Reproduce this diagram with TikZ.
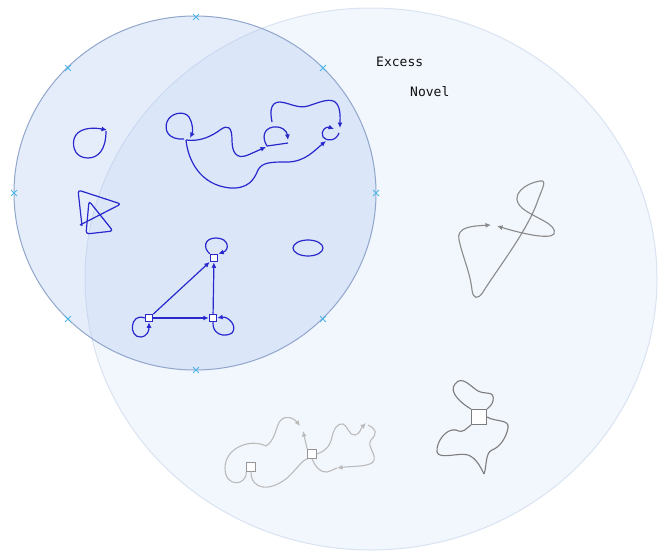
\documentclass[tikz,border=0pt]{standalone}
\usepackage{fontspec}
\setmonofont{DejaVu Sans Mono}
\usetikzlibrary{arrows.meta,shapes.misc}
\definecolor{bigfill}{HTML}{F2F6FD}
\definecolor{bigline}{HTML}{D9E3F1}
\definecolor{smallfill}{HTML}{A9C4F0}
\definecolor{smallline}{HTML}{90A6CA}
\definecolor{markc}{HTML}{4DB8E8}
\definecolor{edgeblue}{RGB}{40,40,205}
\definecolor{edgegray}{HTML}{8A8A8A}
\definecolor{edgedark}{HTML}{7C7C7C}
\definecolor{edgelight}{HTML}{BBBBBB}
\definecolor{txt}{HTML}{111111}
\tikzset{
  blueedge/.style={draw=edgeblue,line width=1.2pt,-{Latex[length=5.5pt,width=5pt]}},
  bluecurve/.style={draw=edgeblue,line width=1.2pt},
  grayedge/.style={draw=edgegray,line width=1.1pt},
  darkedge/.style={draw=edgedark,line width=1.1pt},
  lightedge/.style={draw=edgelight,line width=1.1pt},
  tipg/.style={-{Latex[length=5.5pt,width=5pt]}},
  bluesq/.style={rectangle,draw=edgeblue,fill=white,line width=1pt,minimum size=7.5pt,inner sep=0pt},
  lightsq/.style={rectangle,draw=edgelight!80!black,fill=white,line width=1pt,minimum size=8.5pt,inner sep=0pt},
  bigsq/.style={rectangle,draw=edgedark,fill=white,line width=1pt,minimum size=15pt,inner sep=0pt},
  marker/.style={cross out,draw=markc,line width=0.9pt,minimum size=5pt,inner sep=0pt},
  label/.style={font=\ttfamily\fontsize{13}{15}\selectfont,text=txt,inner sep=0pt,anchor=base west}
}
\begin{document}
\begin{tikzpicture}[x=1pt,y=-1pt]
\useasboundingbox (0,0) rectangle (658,552);
% big ellipse
\draw[fill=bigfill,draw=bigline,line width=1pt] (371,279) ellipse [x radius=286pt, y radius=271pt];
% small circle
\draw[fill=smallfill,fill opacity=0.3,draw=smallline,line width=1pt] (195,193) ellipse [x radius=181pt, y radius=177pt];
% markers
\node[marker] (m1) at (196,17) {};
\node[marker] (m2) at (68,68) {};
\node[marker] (m3) at (323,68) {};
\node[marker] (m4) at (14,193) {};
\node[marker] (m5) at (376,193) {};
\node[marker] (m6) at (68,319) {};
\node[marker] (m7) at (323,319) {};
\node[marker] (m8) at (196,370) {};
% labels
\node[label] (ex) at (376,66) {Excess};
\node[label] (nv) at (410,96) {Novel};

% ---- blue: teardrop loop
\coordinate (d1) at (106,131);
\draw[blueedge] (d1) .. controls (106,150) and (98,158) .. (88,158)
  .. controls (76,158) and (72,148) .. (74,139)
  .. controls (77,128) and (92,127) .. (107,130);
% ---- blue: triangle shape
\draw[bluecurve,rounded corners=3pt] (82,226) -- (78,190) -- (121,204) -- (80,225);
\draw[bluecurve,rounded corners=3pt] (89,201) -- (86,234) -- (113,231) -- cycle;
% ---- blue: oval
\draw[bluecurve] (308,248) ellipse [x radius=15pt, y radius=8pt];

% ---- blue: top group
\coordinate (n1) at (190,138);
\coordinate (n2) at (266,147);
\coordinate (n3) at (288,140);
\coordinate (n4) at (340,128);
\coordinate (n5) at (326,141);
\coordinate (n6) at (272,122);
\coordinate (n7) at (334,129);
% loop 1
\draw[blueedge] (184,139) .. controls (168,140) and (164,130) .. (167,122)
  .. controls (170,113) and (184,110) .. (189,117)
  .. controls (193,123) and (193,132) .. (n1);
% wiggle to n2
\draw[blueedge] (186,140) .. controls (200,142) and (212,136) .. (220,130)
  .. controls (228,124) and (232,127) .. (232,140)
  .. controls (232,152) and (236,160) .. (248,155) -- (n2);
% loop 2
\draw[blueedge] (267,146) .. controls (262,138) and (263,129) .. (273,127)
  .. controls (282,126) and (287,131) .. (n3);
\draw[bluecurve] (267,146) -- (288,143);
% path up
\draw[blueedge] (n6) .. controls (270,112) and (270,102) .. (280,102)
  .. controls (290,103) and (298,109) .. (308,106)
  .. controls (318,103) and (332,96) .. (337,104)
  .. controls (341,110) and (340,120) .. (n4);
% loop 3
\draw[blueedge] (339,133) .. controls (336,141) and (327,142) .. (323,137)
  .. controls (320,131) and (326,126) .. (n7);
% long bottom path
\draw[blueedge] (186,140) .. controls (188,160) and (200,185) .. (230,188)
  .. controls (248,189) and (254,180) .. (258,170)
  .. controls (262,162) and (272,162) .. (287,162)
  .. controls (305,162) and (315,150) .. (n5);

% ---- blue: triangle graph
\node[bluesq] (T) at (214,258) {};
\node[bluesq] (L) at (149,318) {};
\node[bluesq] (R) at (213,318) {};
\draw[blueedge] (L) -- (T);
\draw[blueedge] (L) -- (R);
\draw[blueedge] (R) -- (T);
\draw[blueedge] (T.north west) .. controls (203,248) and (204,238) .. (216,238)
  .. controls (229,238) and (230,250) .. (T.north east);
\draw[blueedge] (L.west) .. controls (130,312) and (128,338) .. (141,337)
  .. controls (148,336) and (149,330) .. (L.south);
\draw[blueedge] (R.south) .. controls (212,334) and (224,338) .. (232,333)
  .. controls (238,326) and (228,316) .. (R.east);

% ---- gray figure
\coordinate (g1) at (491,225);
\coordinate (g2) at (497,226);
\draw[grayedge,{Latex[length=5.5pt,width=5pt]}-{Latex[length=5.5pt,width=5pt]}] (g1)
  .. controls (472,226) and (456,227) .. (459,240)
  .. controls (463,258) and (470,272) .. (472,290)
  .. controls (473,299) and (478,300) .. (483,292)
  .. controls (498,268) and (528,230) .. (538,200)
  .. controls (543,187) and (547,180) .. (540,181)
  .. controls (526,183) and (508,195) .. (522,208)
  .. controls (534,218) and (558,224) .. (554,234)
  .. controls (549,240) and (520,233) .. (g2);

% ---- bowtie
\node[bigsq] (B) at (479,417) {};
\coordinate (bt) at (484,474);
\draw[darkedge] (B.north west) .. controls (462,404) and (448,392) .. (455,384)
  .. controls (462,375) and (470,386) .. (478,391)
  .. controls (486,395) and (495,390) .. (493,401)
  .. controls (492,405) and (489,407) .. (B.north east);
\draw[darkedge] (B.south west) .. controls (466,428) and (464,434) .. (456,430)
  .. controls (446,428) and (436,442) .. (437,452)
  .. controls (439,460) and (460,452) .. (468,455)
  .. controls (476,458) and (480,466) .. (bt);
\draw[darkedge] (B.east) .. controls (495,422) and (510,419) .. (508,428)
  .. controls (506,438) and (500,447) .. (492,450)
  .. controls (485,453) and (487,466) .. (bt);

% ---- light gray group
\node[lightsq] (S1) at (251,467) {};
\node[lightsq] (S2) at (312,454) {};
\coordinate (x1) at (300,426);
\coordinate (x2) at (303,431);
\coordinate (x3) at (366,423);
\coordinate (x4) at (337,468);
\draw[lightedge] (S1.south) .. controls (251,490) and (270,492) .. (287,478)
  .. controls (298,468) and (302,460) .. (S2.south west);
\draw[lightedge,tipg] (S1.south west) .. controls (247,486) and (225,488) .. (225,468)
  .. controls (225,448) and (250,438) .. (266,446)
  .. controls (276,440) and (276,424) .. (281,420)
  .. controls (286,415) and (294,418) .. (x1);
\draw[lightedge,tipg] (S2.north west) -- (x2);
\draw[lightedge,tipg] (S2.east) .. controls (324,452) and (330,447) .. (332,437)
  .. controls (334,428) and (338,423) .. (343,424)
  .. controls (348,426) and (349,436) .. (355,435)
  .. controls (360,434) and (361,428) .. (x3);
\draw[lightedge,tipg] (368,425) .. controls (376,429) and (378,433) .. (371,440)
  .. controls (366,446) and (378,455) .. (373,462)
  .. controls (368,467) and (352,466) .. (x4);
\draw[lightedge] (S2.south) .. controls (315,466) and (320,473) .. (327,472)
  .. controls (331,471) and (334,469) .. (x4);
\end{tikzpicture}
\end{document}
